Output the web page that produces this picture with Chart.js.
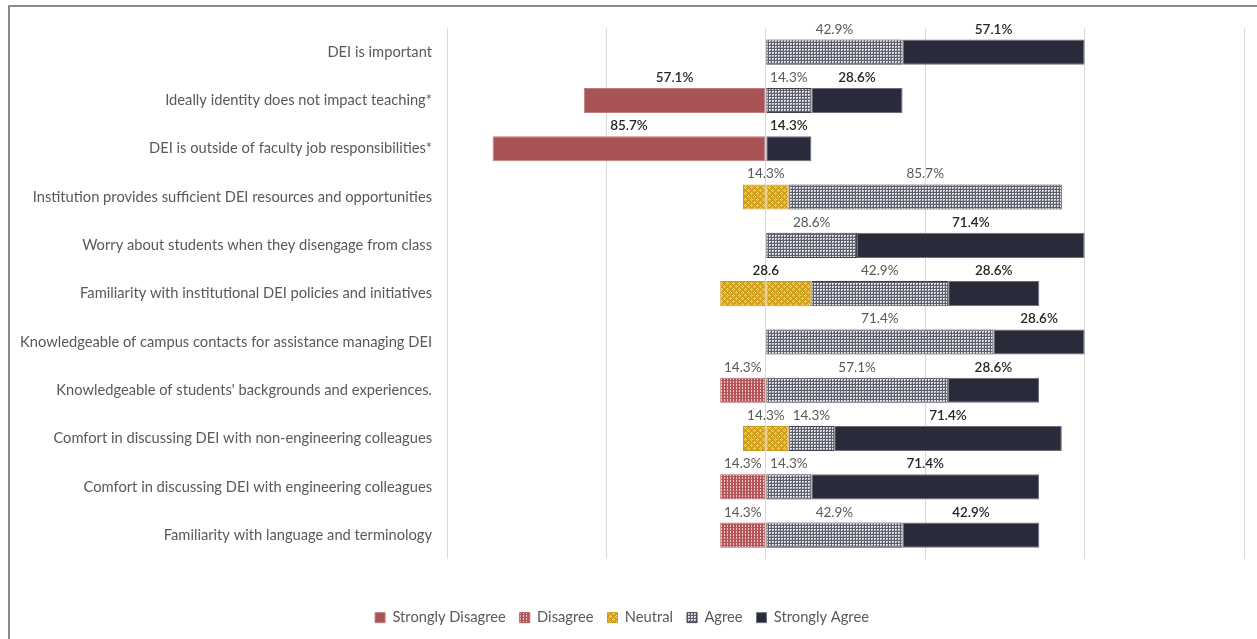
<!DOCTYPE html>
<html>
<head>
<meta charset="utf-8">
<script src="https://cdn.jsdelivr.net/npm/chart.js@4"></script>
<style>
  html, body { margin:0; padding:0; background:#fff; width:1257px; height:639px; overflow:hidden; }
  #frame { position:absolute; left:8px; top:5px; width:1300px; height:700px; border:2px solid #8a8a8a; box-sizing:border-box; }
  #wrap { position:absolute; left:0; top:0; width:1257px; height:639px; }
</style>
</head>
<body>
<div id="frame"></div>
<div id="wrap"><canvas id="chart"></canvas></div>
<script>
// Survey items, top to bottom
const CATEGORIES = [
  "DEI is important",
  "Ideally identity does not impact teaching*",
  "DEI is outside of faculty job responsibilities*",
  "Institution provides sufficient DEI resources and opportunities",
  "Worry about students when they disengage from class",
  "Familiarity with institutional DEI policies and initiatives",
  "Knowledgeable of campus contacts for assistance managing DEI",
  "Knowledgeable of students' backgrounds and experiences.",
  "Comfort in discussing DEI with non-engineering colleagues",
  "Comfort in discussing DEI with engineering colleagues",
  "Familiarity with language and terminology"
];

// percentages per response
const STRONGLY_DISAGREE = [0, 57.1, 85.7, 0, 0, 0, 0, 0, 0, 0, 0];
const DISAGREE          = [0, 0, 0, 0, 0, 0, 0, 14.3, 0, 14.3, 14.3];
const NEUTRAL           = [0, 0, 0, 14.3, 0, 28.6, 0, 0, 14.3, 0, 0];
const AGREE             = [42.9, 14.3, 0, 85.7, 28.6, 42.9, 71.4, 57.1, 14.3, 14.3, 42.9];
const STRONGLY_AGREE    = [57.1, 28.6, 14.3, 0, 71.4, 28.6, 28.6, 28.6, 71.4, 71.4, 42.9];

// neutral label text as printed (one is shown without %)
const NEUTRAL_LABELS = ["", "", "", "14.3%", "", "28.6", "", "", "14.3%", "", ""];

const X_MIN = -100, X_MAX = 150, X_STEP = 50;

const FONT = "Lato, 'Open Sans', sans-serif";
const GRAY_TXT = "#595959";
const DARK_TXT = "#262626";

// small tiled fills, like the office hatch patterns
function makePattern(w, h, draw) {
  const c = document.createElement("canvas");
  c.width = w; c.height = h;
  const g = c.getContext("2d");
  draw(g);
  return g.createPattern(c, "repeat");
}
const agreeFill = makePattern(3, 3, g => {
  g.fillStyle = "#5e5f6c"; g.fillRect(0,0,3,3);
  g.fillStyle = "#e4e4e8"; g.fillRect(1,1,2,2);
  g.fillStyle = "#9a9ba4"; g.fillRect(2,2,1,1);
});
const disagreeFill = makePattern(3, 3, g => {
  g.fillStyle = "#b4555a"; g.fillRect(0,0,3,3);
  g.fillStyle = "#eec9c9"; g.fillRect(1,0,1,2);
});
const neutralFill = makePattern(6, 6, g => {
  g.fillStyle = "#d0a021"; g.fillRect(0,0,6,6);
  g.fillStyle = "#f1dc95";
  g.fillRect(1,0,1,1); g.fillRect(0,1,1,1); g.fillRect(2,1,1,1); g.fillRect(1,2,1,1);
  g.fillRect(4,3,1,1); g.fillRect(3,4,1,1); g.fillRect(5,4,1,1); g.fillRect(4,5,1,1);
});

const nz = arr => arr.map(v => v ? v : null);

// order matters for stacking: negatives stack outward from zero in dataset order
const datasets = [
  { label: "Neutral", key: "neutralNeg", data: nz(NEUTRAL.map(v => -v / 2)),
    backgroundColor: neutralFill, borderColor: "#c89a1e", legendRank: 9 },
  { label: "Disagree", key: "disagree", data: nz(DISAGREE.map(v => -v)),
    backgroundColor: disagreeFill, borderColor: "#b0575b", legendRank: 1 },
  { label: "Strongly Disagree", key: "sd", data: nz(STRONGLY_DISAGREE.map(v => -v)),
    backgroundColor: "#a85355", borderColor: "#c07a7b", legendRank: 0 },
  { label: "Neutral", key: "neutral", data: nz(NEUTRAL.map(v => v / 2)),
    backgroundColor: neutralFill, borderColor: "#c89a1e", legendRank: 2 },
  { label: "Agree", key: "agree", data: nz(AGREE),
    backgroundColor: agreeFill, borderColor: "#3e4050", legendRank: 3 },
  { label: "Strongly Agree", key: "sa", data: nz(STRONGLY_AGREE),
    backgroundColor: "#292a3a", borderColor: "#6c6e7c", legendRank: 4 }
].map(d => Object.assign(d, { borderWidth: 1, borderSkipped: false, categoryPercentage: 1, barPercentage: 0.52 }));

const rawValues = { disagree: DISAGREE, sd: STRONGLY_DISAGREE, agree: AGREE, sa: STRONGLY_AGREE };

// value labels above each segment
const segmentLabels = {
  id: "segmentLabels",
  afterDatasetsDraw(chart) {
    const ctx = chart.ctx;
    ctx.save();
    ctx.textAlign = "center";
    ctx.textBaseline = "alphabetic";
    const metas = chart.data.datasets.map((d, i) => chart.getDatasetMeta(i));
    chart.data.datasets.forEach((ds, di) => {
      if (ds.key === "neutralNeg") return;
      metas[di].data.forEach((el, i) => {
        let text, cx, dark;
        if (ds.key === "neutral") {
          if (!NEUTRAL[i]) return;
          const neg = metas[0].data[i];
          cx = (neg.x + el.x) / 2;
          text = NEUTRAL_LABELS[i];
          dark = text.indexOf("%") < 0;
        } else {
          const v = rawValues[ds.key][i];
          if (!v) return;
          cx = (el.x + el.base) / 2;
          text = v.toFixed(1) + "%";
          dark = ds.key === "sa" || ds.key === "sd";
        }
        ctx.font = (dark ? "600 " : "") + "13.5px " + FONT;
        ctx.fillStyle = dark ? DARK_TXT : GRAY_TXT;
        ctx.fillText(text, cx, el.y - el.height / 2 - 6);
      });
    });
    ctx.restore();
  }
};

new Chart(document.getElementById("chart"), {
  type: "bar",
  data: { labels: CATEGORIES, datasets },
  plugins: [segmentLabels],
  options: {
    indexAxis: "y",
    responsive: true,
    maintainAspectRatio: false,
    animation: false,
    layout: { padding: { top: 28, right: 13, bottom: 4, left: 0 } },
    scales: {
      x: {
        stacked: true, min: X_MIN, max: X_MAX,
        ticks: { display: false, stepSize: X_STEP },
        grid: { color: "#d9d9d9", lineWidth: 1, drawTicks: false },
        border: { display: false },
        afterFit: s => { s.height = 37; }
      },
      y: {
        stacked: true,
        grid: { display: false },
        border: { display: false },
        ticks: { autoSkip: false, padding: 7, color: GRAY_TXT, font: { family: FONT, size: 14.7 } },
        afterFit: s => { s.width = 447; }
      }
    },
    plugins: {
      tooltip: { enabled: false },
      legend: {
        position: "bottom",
        labels: {
          boxWidth: 10, boxHeight: 10, padding: 14,
          color: GRAY_TXT, font: { family: FONT, size: 14.7 },
          filter: (item, data) => data.datasets[item.datasetIndex].key !== "neutralNeg",
          sort: (a, b, data) => data.datasets[a.datasetIndex].legendRank - data.datasets[b.datasetIndex].legendRank
        }
      }
    }
  }
});
</script>
</body>
</html>
